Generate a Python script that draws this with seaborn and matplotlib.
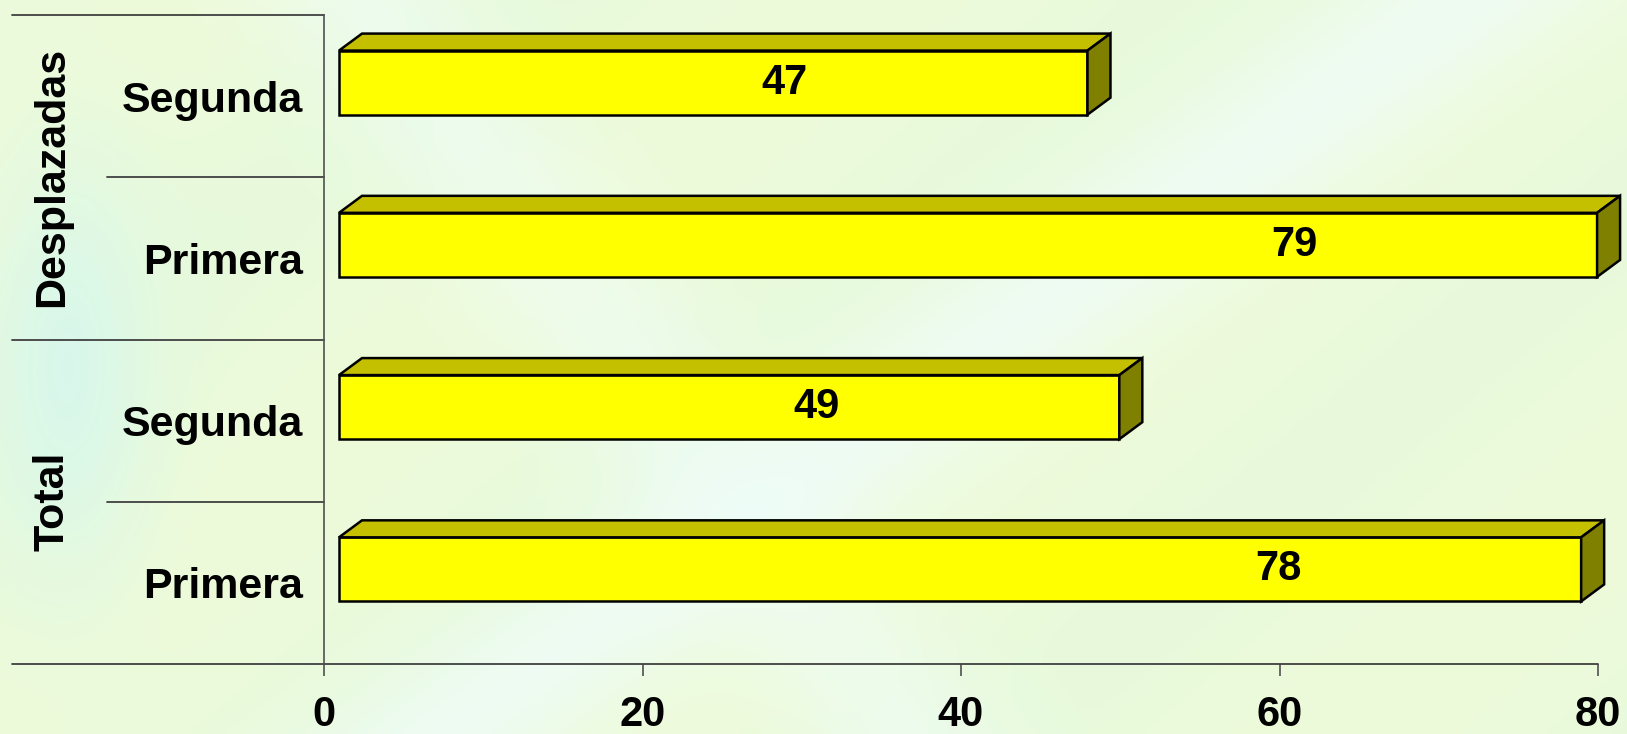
import numpy as np
import pandas as pd
import seaborn as sns
import matplotlib
matplotlib.use("Agg")
import matplotlib.pyplot as plt
from matplotlib.transforms import ScaledTranslation, IdentityTransform, blended_transform_factory
from matplotlib.patches import Polygon
from matplotlib.lines import Line2D

# data
grupos = ["Desplazadas", "Desplazadas", "Total", "Total"]
vueltas = ["Segunda", "Primera", "Segunda", "Primera"]
valores = [47, 79, 49, 78]
ticks_x = [0, 20, 40, 60, 80]

sns.set_style("white")
plt.rcParams["font.family"] = ["Liberation Sans", "DejaVu Sans"]
plt.rcParams["font.weight"] = "bold"
plt.rcParams["text.color"] = "black"
plt.rcParams["xtick.color"] = "#505050"
plt.rcParams["xtick.labelcolor"] = "black"
plt.rcParams["ytick.labelcolor"] = "black"

fig = plt.figure(figsize=(16.27, 7.34), dpi=100)

# soft green background
bg = fig.add_axes([0, 0, 1, 1], zorder=-10)
bg.axis("off")
yy, xx = np.mgrid[0:1:150j, 0:1:330j]
img = np.ones((150, 330, 3)) * np.array([0.91, 0.98, 0.86])
def mix(img, col, w):
    return img * (1 - w[..., None]) + np.array(col) * w[..., None]
img = mix(img, [0.97, 0.99, 0.84], 0.35 * (0.5 + 0.5 * np.sin(xx * 15 + yy * 8)))
img = mix(img, [0.94, 0.99, 0.99], 0.7 * np.exp(-((xx * 0.8 + yy * 0.5 - 0.72) / 0.07) ** 2))
img = mix(img, [0.94, 0.99, 0.99], 0.5 * np.exp(-((xx * 0.9 - yy * 0.3 - 0.2) / 0.06) ** 2))
img = mix(img, [0.84, 0.97, 0.93], 0.85 * np.exp(-((xx - 0.04) / 0.05) ** 2 - ((yy - 0.5) / 0.28) ** 2))
bg.imshow(img, aspect="auto", extent=[0, 1, 0, 1], interpolation="bicubic")

ax = fig.add_axes([324 / 1627, 1 - 664 / 734, 1274 / 1627, 649 / 734])
ax.set_facecolor("none")

df = pd.DataFrame({"cat": [g + " " + v for g, v in zip(grupos, vueltas)], "valor": valores})
sns.barplot(data=df, y="cat", x="valor", orient="h", width=0.395, color="#FFFF00",
            saturation=1, edgecolor="black", linewidth=1.8, ax=ax, zorder=3)
ax.set_xlim(0, 80)
ax.set_ylim(3.5, -0.5)

# 3d look: shift the front faces and add top / side faces
shift = ScaledTranslation(0.15, 0.135, fig.dpi_scale_trans)
tr = ax.transData + shift
dx, dy = 23, 17
for p in list(ax.patches):
    p.set_transform(tr)
    p.set_clip_on(False)
    x0, y0, w, h = p.get_x(), p.get_y(), p.get_width(), p.get_height()
    xl, yt = tr.transform((x0, y0))
    xr, yb = tr.transform((x0 + w, y0 + h))
    top = [(xl, yt), (xr, yt), (xr + dx, yt + dy), (xl + dx, yt + dy)]
    side = [(xr, yt), (xr + dx, yt + dy), (xr + dx, yb + dy), (xr, yb)]
    for pts, col in [(top, "#C4C000"), (side, "#808000")]:
        ax.add_patch(Polygon(pts, closed=True, facecolor=col, edgecolor="black",
                             linewidth=1.8, transform=IdentityTransform(),
                             clip_on=False, zorder=3))

for i, v in enumerate(valores):
    ax.text(v - 19, i, str(v), transform=tr, ha="center", va="center",
            fontsize=30, fontweight="bold", zorder=5)

ax.set_yticks(range(4))
ax.set_yticklabels(vueltas, fontsize=31, fontweight="bold")
ax.tick_params(axis="y", length=0, pad=15)
ax.set_xticks(ticks_x)
ax.set_xticklabels([str(t) for t in ticks_x], fontsize=30, fontweight="bold")
ax.tick_params(axis="x", bottom=True, length=8.6, width=1.2, pad=14)
ax.set_xlabel("")
ax.set_ylabel("")

for s in ["top", "right", "bottom"]:
    ax.spines[s].set_visible(False)
ax.spines["left"].set_color("#505050")
ax.spines["left"].set_linewidth(1.2)

btr = blended_transform_factory(ax.transAxes, ax.transData)
for y, x0, x1 in [(-0.5, -0.245, 0), (1.5, -0.245, 0), (3.5, -0.245, 1.0),
                  (0.5, -0.170, 0), (2.5, -0.170, 0)]:
    ax.add_line(Line2D([x0, x1], [y, y], transform=btr, color="#404040",
                       linewidth=1.3, clip_on=False))

for nombre, yc in [("Desplazadas", 0.5), ("Total", 2.5)]:
    ax.text(-0.2135, yc, nombre, transform=btr, rotation=90, ha="center",
            va="center", fontsize=31, fontweight="bold")

fig.savefig("out.png", dpi=100)
